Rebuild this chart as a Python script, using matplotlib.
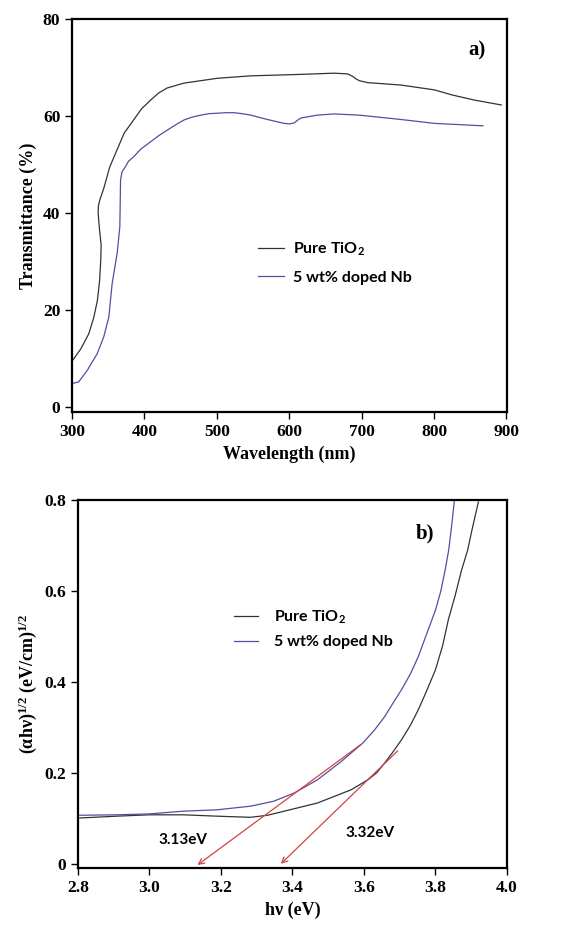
import numpy as np
import matplotlib
matplotlib.use("Agg")
import matplotlib.pyplot as plt

plt.rcParams['font.family'] = ['Liberation Serif', 'DejaVu Serif']
plt.rcParams['mathtext.default'] = 'regular'

# panel a: transmittance spectra
wl_pure = [300, 312, 323, 330, 335, 338, 339.6, 340.2, 338, 336, 336.5, 338.3, 343.8, 352,
           362, 372, 385, 396, 408.5, 420, 431.5, 454.6, 500.8, 547, 616, 662, 680.8,
           687.7, 692, 697, 708.5, 754.6, 800.8, 824, 856, 893]
tr_pure = [9.5, 12, 15.1, 18.5, 22, 26, 30.3, 33.4, 36.5, 40, 41.6, 42.7, 45.1, 49.5,
           53, 56.5, 59.2, 61.5, 63.3, 64.8, 65.8, 66.8, 67.8, 68.3, 68.6, 68.85, 68.7,
           68.2, 67.7, 67.3, 66.9, 66.4, 65.4, 64.4, 63.3, 62.3]
wl_nb = [302, 309, 321, 334.6, 343.8, 350.8, 355.4, 362.3, 366, 367, 369, 373.8, 378,
         385, 395, 408.5, 420, 431.5, 443, 454.6, 466, 477.7, 489, 500.8, 512, 524,
         535, 547, 570, 593.1, 600, 606.9, 612, 616, 639, 662, 697, 754.6, 800.8, 867.7]
tr_nb = [4.96, 5.2, 7.6, 11, 14.5, 18.6, 25.5, 31.7, 37.2, 46.8, 48.5, 49.6, 50.7,
         51.6, 53.2, 54.7, 56, 57.1, 58.2, 59.2, 59.8, 60.2, 60.5, 60.6, 60.7, 60.7,
         60.5, 60.2, 59.3, 58.5, 58.4, 58.6, 59.2, 59.6, 60.2, 60.45, 60.2, 59.3,
         58.5, 58.0]

# panel b: Tauc plot
hv_pure = [2.805, 2.908, 3.0, 3.095, 3.189, 3.283, 3.33, 3.377, 3.47, 3.564, 3.611,
           3.635, 3.658, 3.68, 3.705, 3.73, 3.752, 3.775, 3.8, 3.82, 3.836, 3.855,
           3.873, 3.89, 3.902, 3.92]
tauc_pure = [0.101, 0.105, 0.108, 0.108, 0.105, 0.1025, 0.107, 0.116, 0.134, 0.163,
             0.185, 0.2, 0.222, 0.245, 0.273, 0.305, 0.339, 0.38, 0.427, 0.48, 0.537,
             0.59, 0.646, 0.69, 0.734, 0.796]
hv_nb = [2.805, 2.908, 3.0, 3.095, 3.189, 3.283, 3.348, 3.405, 3.47, 3.536, 3.597,
         3.63, 3.658, 3.68, 3.705, 3.73, 3.752, 3.775, 3.8, 3.815, 3.827, 3.837,
         3.845, 3.853]
tauc_nb = [0.107, 0.108, 0.11, 0.116, 0.119, 0.127, 0.138, 0.156, 0.185, 0.225, 0.266,
           0.295, 0.324, 0.352, 0.383, 0.418, 0.456, 0.505, 0.558, 0.6, 0.646, 0.69,
           0.742, 0.8]

# tangent lines (start, end) for band gap extrapolation
fit_nb = [(3.597, 0.266), (3.128, -0.006)]
fit_pure = [(3.70, 0.253), (3.362, -0.004)]
gap_labels = ["3.13eV", "3.32eV"]
gap_pos = [(3.095, 0.053), (3.616, 0.068)]

c_pure = '#333333'
c_nb = '#5a4aa0'
c_red = '#d04545'
legend_font = {'family': 'Lato', 'weight': 'bold', 'size': 11.5}

fig = plt.figure(figsize=(5.63, 9.26), dpi=100)
ax1 = fig.add_axes([0.128, 0.555, 0.7726, 0.4244])
ax2 = fig.add_axes([0.1385, 0.0626, 0.762, 0.3974])

ax1.plot(wl_pure, tr_pure, color=c_pure, lw=0.9, label='Pure TiO$_2$')
ax1.plot(wl_nb, tr_nb, color=c_nb, lw=0.9, label='5 wt% doped Nb')
ax1.set_xlim(300, 901)
ax1.set_ylim(-1, 80)
ax1.set_xticks(range(300, 901, 100))
ax1.set_yticks(range(0, 81, 20))
ax1.set_xlabel('Wavelength (nm)', fontsize=13, fontweight='bold')
ax1.set_ylabel('Transmittance (%)', fontsize=13, fontweight='bold')
ax1.text(0.93, 0.92, 'a)', transform=ax1.transAxes, fontsize=15, fontweight='bold',
         ha='center', va='center')
ax1.legend(loc='center left', bbox_to_anchor=(0.395, 0.38), frameon=False, prop=legend_font,
           handlelength=1.6, handletextpad=0.6, labelspacing=0.8)

ax2.plot(hv_pure, tauc_pure, color=c_pure, lw=0.9, label='Pure TiO$_2$')
ax2.plot(hv_nb, tauc_nb, color=c_nb, lw=0.9, label='5 wt% doped Nb')
for fit in (fit_nb, fit_pure):
    ax2.annotate('', xy=fit[1], xytext=fit[0],
                 arrowprops=dict(arrowstyle='->', color=c_red, lw=0.9))
for lab, pos in zip(gap_labels, gap_pos):
    ax2.text(pos[0], pos[1], lab, fontdict={'family': 'Lato', 'weight': 'bold', 'size': 11},
             ha='center', va='center')
ax2.set_xlim(2.8, 4.0)
ax2.set_ylim(-0.009, 0.8)
ax2.set_xticks(np.arange(2.8, 4.01, 0.2))
ax2.set_xticklabels(['2.8', '3.0', '3.2', '3.4', '3.6', '3.8', '4.0'])
ax2.set_yticks([0, 0.2, 0.4, 0.6, 0.8])
ax2.set_yticklabels(['0', '0.2', '0.4', '0.6', '0.8'])
ax2.set_xlabel('hν (eV)', fontsize=13, fontweight='bold')
ax2.set_ylabel('(αhν)$^{1/2}$ (eV/cm)$^{1/2}$', fontsize=13, fontweight='bold')
ax2.text(0.81, 0.91, 'b)', transform=ax2.transAxes, fontsize=15, fontweight='bold',
         ha='center', va='center')
ax2.legend(loc='center left', bbox_to_anchor=(0.33, 0.65), frameon=False, prop=legend_font,
           handlelength=1.5, handletextpad=1.0, labelspacing=0.6)

for ax in (ax1, ax2):
    for s in ax.spines.values():
        s.set_linewidth(1.6)
    ax.tick_params(direction='out', length=5, width=1, labelsize=12.5)
    for t in ax.get_xticklabels() + ax.get_yticklabels():
        t.set_fontweight('bold')

fig.savefig('out.png', dpi=100)
